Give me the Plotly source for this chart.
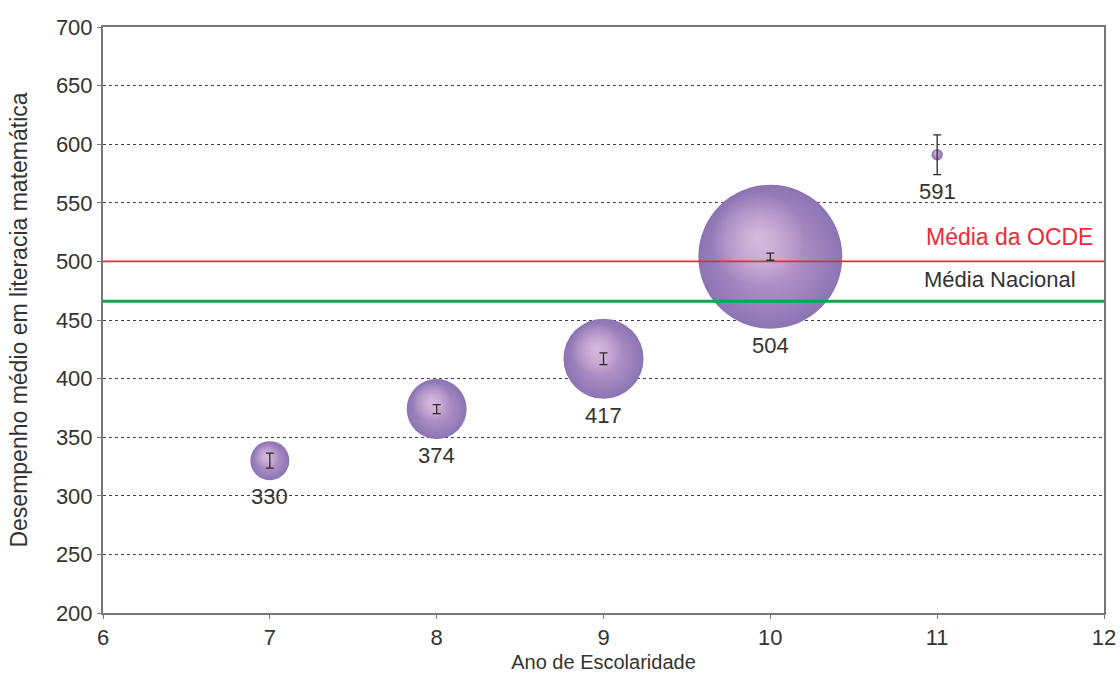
import math
import plotly.graph_objects as go

# Ano de escolaridade, desempenho médio, erro-padrão e percentagem de alunos
anos = [7, 8, 9, 10, 11]
desempenho = [330, 374, 417, 504, 591]
erro = [6.4, 3.8, 5.0, 3.0, 17.0]
pct_alunos = [4.7, 11.1, 19.8, 64.0, 0.4]

media_ocde = 500
media_nacional = 466

x_range = [6, 12]
y_range = [200, 700]
y_ticks = list(range(200, 701, 50))
x_ticks = list(range(6, 13))

FONT = "Liberation Sans, Arial, sans-serif"
TXT = "#333333"

W, H = 1120, 673
M = dict(l=103, r=16, t=27, b=60)
plot_w = W - M["l"] - M["r"]
plot_h = H - M["t"] - M["b"]
px_per_x = plot_w / (x_range[1] - x_range[0])
px_per_y = plot_h / (y_range[1] - y_range[0])

max_diam = 144
sizeref = 2.0 * max(pct_alunos) / (max_diam ** 2)
radii = [max_diam / 2 * math.sqrt(p / max(pct_alunos)) for p in pct_alunos]

fig = go.Figure()

# bubbles: area proportional to the share of students
fig.add_trace(go.Scatter(
    x=anos, y=desempenho,
    mode="markers",
    marker=dict(
        size=pct_alunos, sizemode="area", sizeref=sizeref,
        color="#8c74b4", opacity=1,
        gradient=dict(type="radial", color="#c4a2cf"),
        line=dict(width=0),
    ),
    showlegend=False, hoverinfo="x+y",
))

# soft highlight towards the upper-left of each bubble
fig.add_trace(go.Scatter(
    x=[xa - 0.18 * r / px_per_x for xa, r in zip(anos, radii)],
    y=[ya + 0.25 * r / px_per_y for ya, r in zip(desempenho, radii)],
    mode="markers",
    marker=dict(
        size=[1.3 * r for r in radii],
        color="rgba(222,192,226,0)", opacity=1,
        gradient=dict(type="radial", color="rgba(222,192,226,0.85)"),
        line=dict(width=0),
    ),
    showlegend=False, hoverinfo="skip",
))

# reference lines
fig.add_trace(go.Scatter(
    x=x_range, y=[media_ocde, media_ocde], mode="lines",
    line=dict(color="#ee2a3a", width=1.6), showlegend=False, hoverinfo="skip",
))
fig.add_trace(go.Scatter(
    x=x_range, y=[media_nacional, media_nacional], mode="lines",
    line=dict(color="#11a54a", width=3), showlegend=False, hoverinfo="skip",
))

# standard-error bars, drawn above the bubbles
fig.add_trace(go.Scatter(
    x=anos, y=desempenho, mode="markers",
    marker=dict(size=1, opacity=0),
    error_y=dict(type="data", array=erro, visible=True,
                 color="#2a2a2a", thickness=1.3, width=4),
    showlegend=False, hoverinfo="skip",
))

# value labels just below each bubble (or below its error bar)
for xa, ya, r, e in zip(anos, desempenho, radii, erro):
    drop = max(r, e * px_per_y) + 2
    fig.add_annotation(x=xa, y=ya, xref="x", yref="y", text=str(ya),
                       showarrow=False, xanchor="center", yanchor="top",
                       yshift=-drop,
                       font=dict(family=FONT, size=22, color=TXT))

fig.add_annotation(x=10.92, y=media_ocde, xref="x", yref="y",
                   text="Média da OCDE", showarrow=False,
                   xanchor="left", yanchor="bottom", yshift=9,
                   font=dict(family=FONT, size=23, color="#ee2a3a"))
fig.add_annotation(x=10.91, y=media_ocde, xref="x", yref="y",
                   text="Média Nacional", showarrow=False,
                   xanchor="left", yanchor="top", yshift=-4,
                   font=dict(family=FONT, size=22, color=TXT))

fig.update_layout(
    width=W, height=H,
    margin=M,
    paper_bgcolor="white", plot_bgcolor="white",
    font=dict(family=FONT, color=TXT),
)
fig.update_xaxes(
    range=x_range, tickvals=x_ticks, showgrid=False, zeroline=False,
    automargin=False,
    showline=True, linecolor="#777777", linewidth=2, mirror=True,
    ticks="outside", ticklen=4, tickcolor="#777777",
    tickfont=dict(family=FONT, size=22, color=TXT),
    title=dict(text="Ano de Escolaridade", standoff=10,
               font=dict(family=FONT, size=20, color=TXT)),
)
fig.update_yaxes(
    range=y_range, tickvals=y_ticks, zeroline=False,
    automargin=False,
    showgrid=True, gridcolor="#444444", griddash="dot", gridwidth=1,
    showline=True, linecolor="#777777", linewidth=2, mirror=True,
    ticks="outside", ticklen=4, tickcolor="#777777",
    tickfont=dict(family=FONT, size=22, color=TXT),
    title=dict(text="Desempenho médio em literacia matemática", standoff=22,
               font=dict(family=FONT, size=23, color=TXT)),
)

fig.write_html("out.html")
